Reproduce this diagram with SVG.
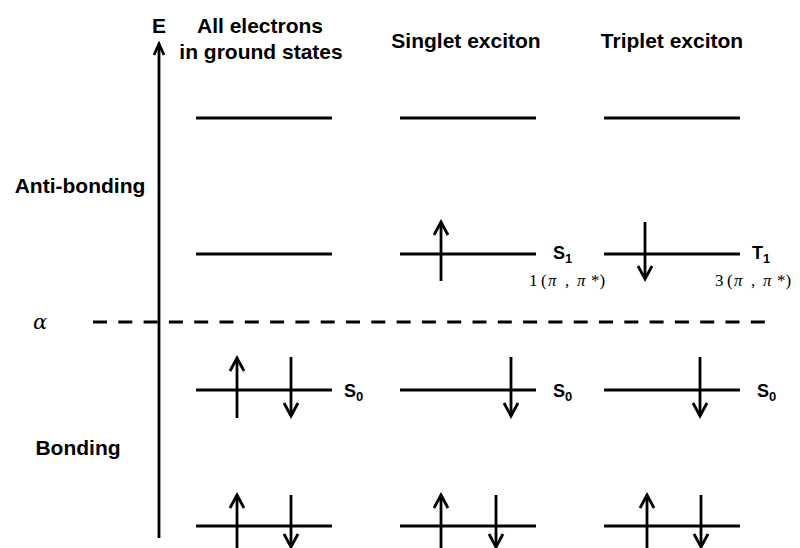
<svg xmlns="http://www.w3.org/2000/svg" width="800" height="548" viewBox="0 0 800 548">
<style>
.t{font-family:"Liberation Sans",Arial,sans-serif;font-weight:bold;font-size:21px;fill:#000}
.s{font-family:"Liberation Sans",Arial,sans-serif;font-weight:bold;font-size:18px;fill:#000}
.sub{font-size:13px}
.lv{stroke:#000;stroke-width:3;fill:none}
.ar{stroke:#000;stroke-width:2.8;fill:none}
.g{font-family:"Liberation Serif","Times New Roman",serif;font-size:17px;fill:#000}
.pi{font-style:italic}
</style>
<rect width="800" height="548" fill="#fff"/>
<g id="connectors">
<line class="ar" x1="159" y1="538" x2="159" y2="44" stroke-width="2"/>
<polyline class="ar" points="154,55 159,44 164,55" stroke-width="2.5"/>
<line x1="93" y1="322" x2="766" y2="322" stroke="#000" stroke-width="3" stroke-dasharray="14 11.3"/>
</g>
<g id="axis-labels">
<text class="t" x="159" y="33" text-anchor="middle" font-size="19">E</text>
<text x="40" y="329" font-family="'DejaVu Serif','Liberation Serif',serif" font-style="italic" font-size="21" text-anchor="middle">α</text>
<text class="t" x="80" y="193" text-anchor="middle">Anti-bonding</text>
<text class="t" x="78" y="455" text-anchor="middle">Bonding</text>
</g>
<g id="col1">
<text class="t" x="260" y="33" text-anchor="middle">All electrons</text>
<text class="t" x="261" y="59" text-anchor="middle">in ground states</text>
<line class="lv" x1="196" y1="118" x2="332" y2="118"/>
<line class="lv" x1="196" y1="254" x2="332" y2="254"/>
<line class="lv" x1="196" y1="390" x2="332" y2="390"/>
<line class="ar" x1="237" y1="418" x2="237" y2="358"/>
<polyline class="ar" points="230,371 237,358 244,371"/>
<line class="ar" x1="291" y1="357" x2="291" y2="416"/>
<polyline class="ar" points="284,403 291,416 298,403"/>
<text class="s" x="344" y="397">S<tspan class="sub" dy="4">0</tspan></text>
<line class="lv" x1="196" y1="526" x2="332" y2="526"/>
<line class="ar" x1="237" y1="548" x2="237" y2="495"/>
<polyline class="ar" points="230,508 237,495 244,508"/>
<line class="ar" x1="291" y1="495" x2="291" y2="547"/>
<polyline class="ar" points="284,534 291,547 298,534"/>
</g>
<g id="col2">
<text class="t" x="466" y="48" text-anchor="middle">Singlet exciton</text>
<line class="lv" x1="400" y1="118" x2="536" y2="118"/>
<line class="lv" x1="400" y1="254" x2="536" y2="254"/>
<line class="ar" x1="441" y1="281" x2="441" y2="222"/>
<polyline class="ar" points="434,235 441,222 448,235"/>
<text class="s" x="553" y="259">S<tspan class="sub" dy="4">1</tspan></text>
<text class="g" x="529" y="286">1<tspan x="541">(</tspan><tspan x="548" class="pi">π</tspan><tspan x="565">,</tspan><tspan x="577" class="pi">π</tspan><tspan x="591">*)</tspan></text>
<line class="lv" x1="400" y1="390" x2="536" y2="390"/>
<line class="ar" x1="511" y1="357" x2="511" y2="416"/>
<polyline class="ar" points="504,403 511,416 518,403"/>
<text class="s" x="553" y="397">S<tspan class="sub" dy="4">0</tspan></text>
<line class="lv" x1="400" y1="526" x2="536" y2="526"/>
<line class="ar" x1="441" y1="548" x2="441" y2="495"/>
<polyline class="ar" points="434,508 441,495 448,508"/>
<line class="ar" x1="496" y1="495" x2="496" y2="547"/>
<polyline class="ar" points="489,534 496,547 503,534"/>
</g>
<g id="col3">
<text class="t" x="672" y="48" text-anchor="middle">Triplet exciton</text>
<line class="lv" x1="604" y1="118" x2="740" y2="118"/>
<line class="lv" x1="604" y1="254" x2="740" y2="254"/>
<line class="ar" x1="645" y1="222" x2="645" y2="279"/>
<polyline class="ar" points="638,266 645,279 652,266"/>
<text class="s" x="752" y="259">T<tspan class="sub" dy="4">1</tspan></text>
<text class="g" x="715" y="286">3<tspan x="727">(</tspan><tspan x="734" class="pi">π</tspan><tspan x="751">,</tspan><tspan x="763" class="pi">π</tspan><tspan x="777">*)</tspan></text>
<line class="lv" x1="604" y1="390" x2="740" y2="390"/>
<line class="ar" x1="700" y1="357" x2="700" y2="416"/>
<polyline class="ar" points="693,403 700,416 707,403"/>
<text class="s" x="757" y="397">S<tspan class="sub" dy="4">0</tspan></text>
<line class="lv" x1="604" y1="526" x2="740" y2="526"/>
<line class="ar" x1="647" y1="548" x2="647" y2="495"/>
<polyline class="ar" points="640,508 647,495 654,508"/>
<line class="ar" x1="701" y1="495" x2="701" y2="547"/>
<polyline class="ar" points="694,534 701,547 708,534"/>
</g>
</svg>
